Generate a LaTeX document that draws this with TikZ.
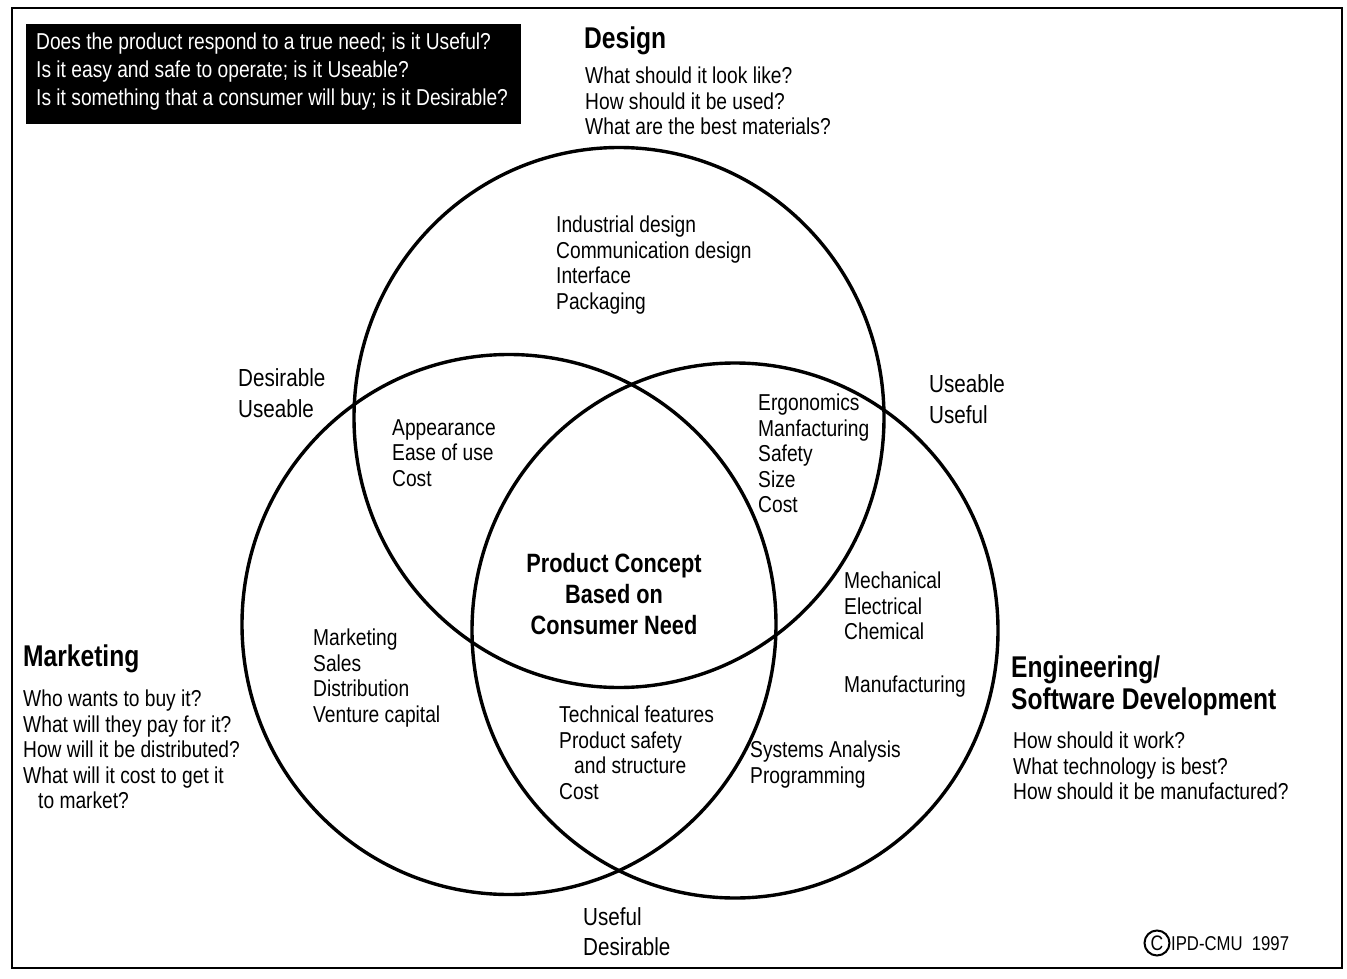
\documentclass[tikz,border=0pt]{standalone}
\usepackage{fontspec}
\setmainfont{Liberation Sans}[FakeStretch=0.835, BoldFeatures={FakeStretch=0.82}]
\begin{document}
\begin{tikzpicture}[x=1pt,y=-1pt,
  ring/.style={line width=3.4pt},
  body/.style={inner sep=0pt, anchor=north west, align=left, font=\fontsize{23}{25.5}\selectfont},
  tag/.style={inner sep=0pt, anchor=north west, align=left, font=\fontsize{24.7}{31}\selectfont},
  head/.style={inner sep=0pt, align=left, font=\fontsize{30}{32}\selectfont\bfseries},
]
\useasboundingbox (0,0) rectangle (1347,979);
% outer frame
\draw[line width=1.2pt] (12,8) rectangle (1342,968);

% the three circles
\coordinate (cD) at (619,417.5);
\coordinate (cM) at (509,624.5);
\coordinate (cE) at (735,630.5);
\draw[ring] (cD) ellipse [x radius=265, y radius=270];
\draw[ring] (cM) ellipse [x radius=267, y radius=270];
\draw[ring] (cE) ellipse [x radius=263, y radius=267.5];

% question box
\fill (26,24) rectangle (521,124);
\node[body, text=white, font=\fontsize{23}{28}\selectfont] (quest) at (36,33)
  {Does the product respond to a true need; is it Useful?\\
   Is it easy and safe to operate; is it Useable?\\
   Is it something that a consumer will buy; is it Desirable?};

% Design
\node[head, anchor=base west] (design) at (584,49) {Design};
\node[body] (designq) at (585,67)
  {What should it look like?\\ How should it be used?\\ What are the best materials?};
\node[body] (designin) at (556,216)
  {Industrial design\\ Communication design\\ Interface\\ Packaging};

% overlap labels
\node[tag] (du) at (238,368) {Desirable\\ Useable};
\node[tag] (uu) at (929,374) {Useable\\ Useful};
\node[tag, font=\fontsize{24.7}{30}\selectfont] (ud) at (583,907) {Useful\\ Desirable};

\node[body] (dm) at (392,419) {Appearance\\ Ease of use\\ Cost};
\node[body] (de) at (758,394) {Ergonomics\\ Manfacturing\\ Safety\\ Size\\ Cost};

% centre
\node[inner sep=0pt, anchor=north, align=center,
      font=\fontsize{26.5}{31}\selectfont\bfseries] (core) at (614,553)
  {Product Concept\\ Based on\\ Consumer Need};

% Marketing
\node[head, anchor=base west] (mkt) at (23,666) {Marketing};
\node[body] (mktq) at (23,690)
  {Who wants to buy it?\\ What will they pay for it?\\ How will it be distributed?\\
   What will it cost to get it\\ \hspace*{15pt}to market?};
\node[body] (mktin) at (313,629)
  {Marketing\\ Sales\\ Distribution\\ Venture capital};

% Engineering
\node[head, anchor=north west] (eng) at (1011,656)
  {Engineering/\\ Software Development};
\node[body] (engq) at (1013,732)
  {How should it work?\\ What technology is best?\\ How should it be manufactured?};
\node[body] (engin) at (844,572) {Mechanical\\ Electrical\\ Chemical};
\node[body, anchor=base west] (manu) at (844,692) {Manufacturing};
\node[body] (me) at (559,706)
  {Technical features\\ Product safety\\ \hspace*{15pt}and structure\\ Cost};
\node[body] (sys) at (750,741) {Systems Analysis\\ Programming};

% copyright
\node[draw, circle, line width=2pt, inner sep=0pt, minimum size=25pt,
      font=\fontsize{21}{21}\selectfont] (copy) at (1157,943) {C};
\node[inner sep=0pt, anchor=west, font=\fontsize{20}{20}\selectfont] (ipd) at (1171,944) {IPD-CMU\ \ 1997};
\end{tikzpicture}
\end{document}
